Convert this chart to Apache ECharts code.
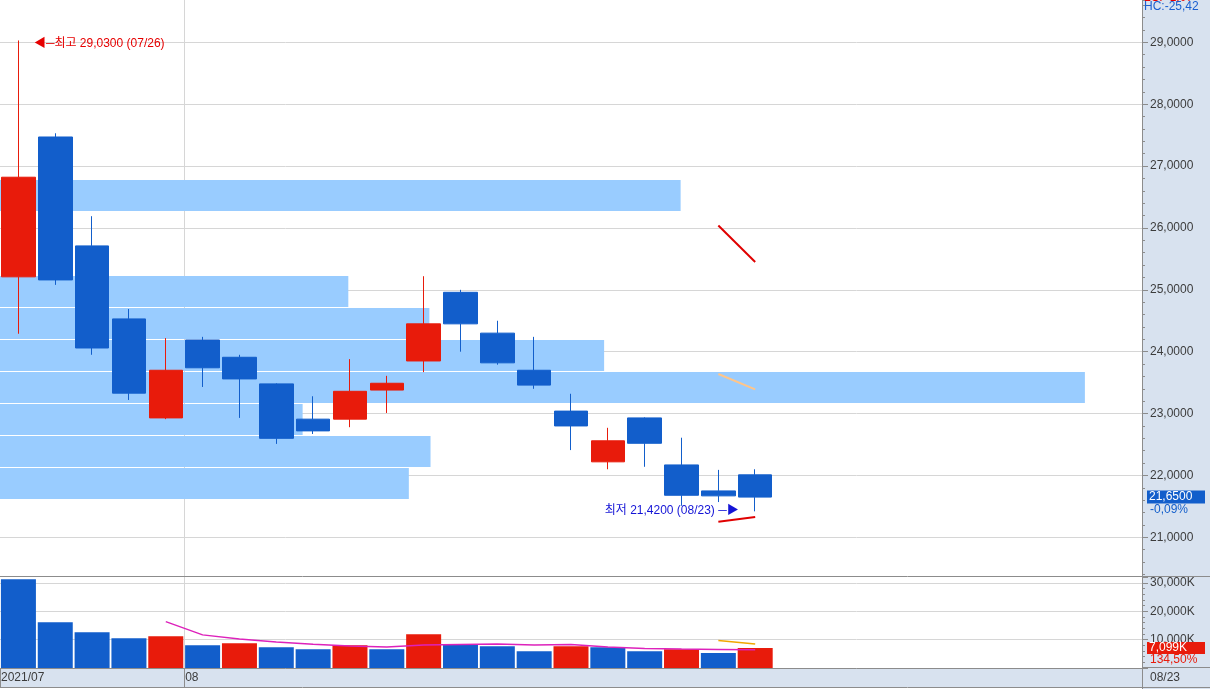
<!DOCTYPE html>
<html><head><meta charset="utf-8">
<script src="https://cdn.jsdelivr.net/npm/echarts@6/dist/echarts.min.js"></script>
<style>html,body{margin:0;padding:0;background:#fff;overflow:hidden}#c{width:1210px;height:689px}</style>
</head><body><div id="c"></div>
<script>
// ---------- data ----------
const dates = ['2021/07/26','2021/07/27','2021/07/28','2021/07/29','2021/07/30',
  '2021/08/02','2021/08/03','2021/08/04','2021/08/05','2021/08/06',
  '2021/08/09','2021/08/10','2021/08/11','2021/08/12','2021/08/13',
  '2021/08/16','2021/08/17','2021/08/18','2021/08/19','2021/08/20','2021/08/23'];
const opens  = [25.21,27.47,25.71,24.53,22.93,24.19,23.91,23.48,22.91,22.91,23.38,23.85,24.96,24.30,23.70,23.04,22.22,22.93,22.17,21.75,22.01];
const closes = [26.82,25.16,24.06,23.33,23.70,23.74,23.56,22.60,22.72,23.36,23.49,24.45,24.45,23.82,23.46,22.80,22.56,22.52,21.68,21.67,21.65];
const lows   = [24.29,25.08,23.95,23.22,22.91,23.43,22.93,22.51,22.67,22.78,23.01,23.67,24.00,23.79,23.40,22.41,22.10,22.14,21.51,21.57,21.42];
const highs  = [29.03,27.53,26.19,24.69,24.22,24.24,23.95,23.49,23.28,23.88,23.61,25.22,25.00,24.50,24.24,23.32,22.77,22.94,22.61,22.09,22.10];
const volumes = [31340,16150,12600,10490,11200,8020,8730,7310,6600,8020,6600,11900,8370,7670,5900,7670,7310,5900,6600,5278,7099]; // K
const volMA5  = [null,null,null,null,16356,11692,10208,9150,8372,7736,7452,8086,8298,8512,8088,8302,7384,6886,6672,6548,6433];
const volMA20 = [null,null,null,null,null,null,null,null,null,null,null,null,null,null,null,null,null,null,null,9683,8471];
const bbUpper = [null,null,null,null,null,null,null,null,null,null,null,null,null,null,null,null,null,null,null,26.04,25.45];
const bbMid   = [null,null,null,null,null,null,null,null,null,null,null,null,null,null,null,null,null,null,null,23.64,23.39];
const bbLower = [null,null,null,null,null,null,null,null,null,null,null,null,null,null,null,null,null,null,null,21.25,21.33];
// price-volume profile bands (price low / high, relative size in % of plot width)
const profLow  = [26.258,24.706,24.189,23.672,23.155,22.638,22.120,21.603];
const profHigh = [26.775,25.223,24.706,24.189,23.672,23.155,22.638,22.120];
const profSize = [59.6,30.5,37.6,52.9,95.0,26.5,37.7,35.8];
const priceTicksMin = 20.375, priceTicksMax = 29.684;
const volAxisMax = 32118;

// ---------- styling ----------
const RED = '#e81b0b', BLUE = '#125ecb', BAND = '#99ccff';
const GRID = '#d6d6d6', BORDER = '#8c8c8c', PANEL = '#d8e2ef', TXT = '#3c3c3c';
const FONT = "'Liberation Sans Narrow','Liberation Sans','Noto Sans CJK KR',sans-serif";
const N_SLOTS = 31;
const cats = dates.concat(Array.from({length: N_SLOTS - dates.length}, (_, i) => 'pad' + i));
const monthStart = dates.map((d, i) => i === 0 || d.slice(0, 7) !== dates[i - 1].slice(0, 7));
const fmtP = v => v.toFixed(4).replace('.', ',');
const fmtK = v => Math.round(v).toLocaleString('en-US') + 'K';
const fmtPct = v => v.toFixed(2).replace('.', ',');
const last = dates.length - 1;
let hiIdx = 0, loIdx = 0;
highs.forEach((h, i) => { if (h > highs[hiIdx]) hiIdx = i; });
lows.forEach((l, i) => { if (l < lows[loIdx]) loIdx = i; });
const chgPct = (closes[last] / closes[last - 1] - 1) * 100;
const volPct = volumes[last] / volumes[last - 1] * 100;
const hcPct = (closes[last] / highs[hiIdx] - 1) * 100;
const lcPct = (closes[last] / lows[loIdx] - 1) * 100;
// month boundaries (index 0 included so the band-boundary ticks are placed correctly; its line is hidden as min line)
const splitFn = idx => idx < dates.length && monthStart[idx];
const HIDDEN_LINE = { color: 'rgba(0,0,0,0)', width: 0 };

const option = {
  animation: false,
  textStyle: { fontFamily: FONT, fontSize: 12 },
  grid: [
    { left: 0, right: 68, top: 0, bottom: 113, containLabel: false, outerBoundsMode: 'none' },
    { left: 0, right: 68, top: 577, bottom: 21, containLabel: false, outerBoundsMode: 'none' }
  ],
  xAxis: [
    { type: 'category', gridIndex: 0, data: cats, boundaryGap: true,
      axisLine: { show: false, onZero: false }, axisTick: { show: false }, axisLabel: { show: false },
      splitLine: { show: true, showMinLine: false, showMaxLine: false, interval: splitFn, lineStyle: { color: GRID } } },
    { type: 'value', gridIndex: 0, min: 0, max: 100, show: false, position: 'top', axisLine: { onZero: false },
      splitLine: { show: false } },
    { type: 'category', gridIndex: 1, data: cats, boundaryGap: true,
      axisLine: { show: true, onZero: false, lineStyle: { color: BORDER } },
      axisTick: { show: true, interval: splitFn, length: 19, lineStyle: { color: BORDER } },
      splitLine: { show: true, showMinLine: false, showMaxLine: false, interval: splitFn, lineStyle: { color: GRID } },
      axisLabel: { show: true, interval: idx => idx < dates.length && monthStart[idx], margin: 4,
        width: 1142 / N_SLOTS, align: 'center', hideOverlap: false,
        formatter: (v, idx) => '{m|' + (idx === 0 ? v.slice(0, 7) : v.slice(5, 7)) + '}',
        rich: { m: { align: 'left', color: TXT, fontSize: 12, fontFamily: FONT, padding: [0, 0, 0, 1] } } } }
  ],
  yAxis: [
    { type: 'value', gridIndex: 0, position: 'right', min: priceTicksMin, max: priceTicksMax, splitNumber: 9,
      axisLine: { show: true, onZero: false, lineStyle: { color: BORDER } },
      axisTick: { show: true, length: 6, lineStyle: { color: BORDER } },
      minorTick: { show: true, splitNumber: 5, length: 3, lineStyle: { color: BORDER } },
      splitLine: { show: true, showMinLine: false, showMaxLine: false, lineStyle: { color: GRID } },
      axisLabel: { margin: 8, color: TXT, fontSize: 12, showMinLabel: false, showMaxLabel: false, formatter: v => fmtP(v) } },
    { type: 'value', gridIndex: 1, position: 'right', min: 0, max: volAxisMax, interval: 10000,
      axisLine: { show: true, onZero: false, lineStyle: { color: BORDER } },
      axisTick: { show: true, length: 6, lineStyle: { color: BORDER } },
      minorTick: { show: true, splitNumber: 5, length: 3, lineStyle: { color: BORDER } },
      splitLine: { show: true, showMinLine: false, showMaxLine: false, lineStyle: { color: GRID } },
      axisLabel: { margin: 8, color: TXT, fontSize: 12, showMinLabel: false, showMaxLabel: false, formatter: v => fmtK(v) } }
  ],
  series: [
    { type: 'custom', name: 'profile', xAxisIndex: 1, yAxisIndex: 0, silent: true, z: 1,
      data: profSize.map((s, i) => [s, profLow[i], profHigh[i]]),
      encode: { x: 0, y: [1, 2] },
      renderItem: (params, api) => {
        const p1 = api.coord([0, api.value(2)]);
        const p2 = api.coord([api.value(0), api.value(1)]);
        return { type: 'rect', shape: { x: p1[0], y: Math.round(p1[1]), width: p2[0] - p1[0], height: Math.round(p2[1]) - Math.round(p1[1]) - 1 },
                 style: { fill: BAND } };
      } },
    { type: 'candlestick', name: 'price', xAxisIndex: 0, yAxisIndex: 0, z: 3, barWidth: 34,
      data: dates.map((d, i) => [opens[i], closes[i], lows[i], highs[i]]),
      itemStyle: { color: RED, color0: BLUE, borderColor: RED, borderColor0: BLUE, borderWidth: 1 },
      markPoint: { symbol: 'circle', symbolSize: 1, silent: true, itemStyle: { color: 'rgba(0,0,0,0)' },
        data: [
          { coord: [hiIdx, highs[hiIdx]], label: { show: true, position: 'right', distance: 15, offset: [0, 3], color: '#e60000', fontSize: 12,
              formatter: '◀─최고 ' + fmtP(highs[hiIdx]) + ' (' + dates[hiIdx].slice(5) + ')' } },
          { coord: [loIdx, lows[loIdx]], label: { show: true, position: 'left', distance: 16, offset: [0, -1], color: '#1414d6', fontSize: 12,
              formatter: '최저 ' + fmtP(lows[loIdx]) + ' (' + dates[loIdx].slice(5) + ') ─▶' } }
        ] },
      markLine: { symbol: 'none', silent: true, lineStyle: HIDDEN_LINE,
        data: [{ yAxis: closes[last], lineStyle: HIDDEN_LINE,
          label: { show: true, position: 'end', distance: 5,
            formatter: '{e| }\n{b|' + fmtP(closes[last]) + '}\n{p|' + fmtPct(chgPct) + '%}',
            rich: { e: { lineHeight: 13, height: 13, fontSize: 12 },
                    b: { backgroundColor: BLUE, color: '#fff', width: 54, height: 13, lineHeight: 13, padding: [0, 2, 0, 2], fontSize: 12, fontFamily: FONT },
                    p: { color: BLUE, lineHeight: 13, height: 13, fontSize: 12, padding: [0, 0, 0, 3], fontFamily: FONT } } } }] } },
    { type: 'line', name: 'BB upper', xAxisIndex: 0, yAxisIndex: 0, data: bbUpper, showSymbol: false, z: 4,
      lineStyle: { color: '#e00000', width: 2 } },
    { type: 'line', name: 'BB mid', xAxisIndex: 0, yAxisIndex: 0, data: bbMid, showSymbol: false, z: 4,
      lineStyle: { color: '#ffc58a', width: 2 } },
    { type: 'line', name: 'BB lower', xAxisIndex: 0, yAxisIndex: 0, data: bbLower, showSymbol: false, z: 4,
      lineStyle: { color: '#e00000', width: 2 } },
    { type: 'bar', name: 'volume', xAxisIndex: 2, yAxisIndex: 1, barWidth: 35, z: 2,
      data: volumes.map((v, i) => ({ value: v, itemStyle: { color: i > 0 && v > volumes[i - 1] ? RED : BLUE } })),
      markLine: { symbol: 'none', silent: true, lineStyle: HIDDEN_LINE,
        data: [{ yAxis: volumes[last], lineStyle: HIDDEN_LINE,
          label: { show: true, position: 'end', distance: 5,
            formatter: '{e| }\n{b|' + fmtK(volumes[last]) + '}\n{p|' + fmtPct(volPct) + '%}',
            rich: { e: { lineHeight: 12, height: 12, fontSize: 12 },
                    b: { backgroundColor: RED, color: '#fff', width: 54, height: 12, lineHeight: 12, padding: [0, 2, 0, 2], fontSize: 12, fontFamily: FONT },
                    p: { color: RED, lineHeight: 12, height: 12, fontSize: 12, padding: [0, 0, 0, 3], fontFamily: FONT } } } }] } },
    { type: 'line', name: 'vol MA5', xAxisIndex: 2, yAxisIndex: 1, data: volMA5, showSymbol: false, z: 4,
      lineStyle: { color: '#dd22bb', width: 1.5 } },
    { type: 'line', name: 'vol MA20', xAxisIndex: 2, yAxisIndex: 1, data: volMA20, showSymbol: false, z: 4,
      lineStyle: { color: '#f0a800', width: 1.5 } }
  ],
  graphic: { elements: [
    { type: 'rect', z: -1, silent: true, shape: { x: 1142, y: 0, width: 68, height: 689 }, style: { fill: PANEL } },
    { type: 'rect', z: -1, silent: true, shape: { x: 0, y: 668, width: 1142, height: 19 }, style: { fill: PANEL } },
    { type: 'line', z: 10, silent: true, shape: { x1: 0, y1: 576.5, x2: 1210, y2: 576.5 }, style: { stroke: BORDER, lineWidth: 1 } },
    { type: 'line', z: 10, silent: true, shape: { x1: 1142, y1: 667.5, x2: 1210, y2: 667.5 }, style: { stroke: BORDER, lineWidth: 1 } },
    { type: 'line', z: 10, silent: true, shape: { x1: 0, y1: 687.5, x2: 1210, y2: 687.5 }, style: { stroke: BORDER, lineWidth: 1 } },
    { type: 'line', z: 10, silent: true, shape: { x1: 1142.5, y1: 0, x2: 1142.5, y2: 689 }, style: { stroke: BORDER, lineWidth: 1 } },
    { type: 'text', z: 10, silent: true, style: { x: 1150, y: 678, text: dates[last].slice(5), fill: TXT, font: '12px ' + FONT, verticalAlign: 'middle' } },
    { type: 'text', z: 10, silent: true, style: { x: 1144, y: -8, text: 'LC:+' + fmtPct(lcPct), fill: '#e60000', font: '12px ' + FONT } },
    { type: 'text', z: 10, silent: true, style: { x: 1144, y: 1, text: 'HC:' + fmtPct(hcPct), fill: '#1a5fd0', font: '12px ' + FONT } }
  ] }
};
const chart = echarts.init(document.getElementById('c'));
chart.setOption(option);
</script></body></html>
